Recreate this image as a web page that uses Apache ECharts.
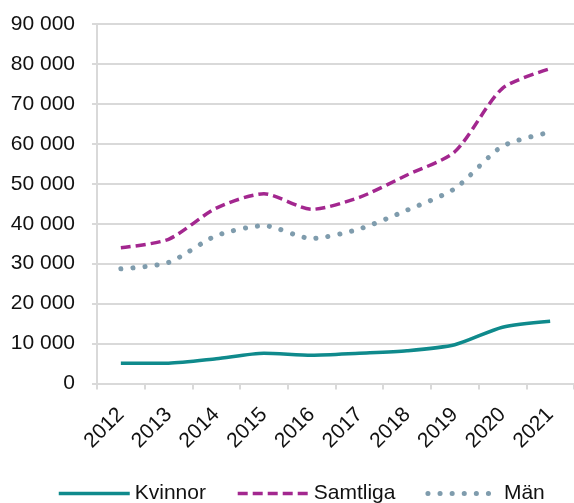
<!DOCTYPE html>
<html>
<head>
<meta charset="utf-8">
<script src="https://cdn.jsdelivr.net/npm/echarts@6/dist/echarts.min.js"></script>
<style>
  html, body { margin: 0; padding: 0; background: #fff; }
  #chart { width: 574px; height: 503px; }
</style>
</head>
<body>
<div id="chart"></div>
<script>
// värden
const years = ['2012', '2013', '2014', '2015', '2016', '2017', '2018', '2019', '2020', '2021'];
const kvinnor = [5100, 5100, 6200, 7600, 7100, 7600, 8200, 9700, 14100, 15600];
const samtliga = [34000, 36100, 43900, 47500, 43600, 46600, 52200, 58000, 73900, 78800];
const man = [28700, 30300, 37000, 39500, 36300, 38700, 43400, 48800, 59400, 62900];

const font = 'Liberation Sans, Arial, sans-serif';
const gridColor = '#d9d9d9';
const textColor = '#111';

const chart = echarts.init(document.getElementById('chart'));

chart.setOption({
    animation: false,
    textStyle: { fontFamily: font },
    grid: { left: 97, top: 24, right: -1, bottom: 119.5, containLabel: false },
    legend: {
        left: 52,
        top: 478,
        itemWidth: 71,
        itemHeight: 20,
        itemGap: 30,
        itemStyle: { opacity: 0 },
        lineStyle: { width: 'inherit' },
        textStyle: { fontSize: 21, color: textColor, fontFamily: font, padding: [0, 0, 6, 0] },
        data: ['Kvinnor', 'Samtliga', 'Män']
    },
    xAxis: {
        type: 'category',
        data: years,
        boundaryGap: true,
        axisLine: { lineStyle: { color: gridColor, width: 2 } },
        axisTick: { show: true, length: 6, lineStyle: { color: gridColor, width: 2 } },
        axisLabel: {
            rotate: 45,
            margin: 28,
            fontSize: 21,
            color: textColor,
            fontFamily: font
        }
    },
    yAxis: {
        type: 'value',
        min: 0,
        max: 90000,
        interval: 10000,
        axisLine: { show: true, lineStyle: { color: gridColor, width: 2 } },
        axisTick: { show: true, length: 5, lineStyle: { color: gridColor, width: 2 } },
        splitLine: { lineStyle: { color: gridColor, width: 2 } },
        axisLabel: {
            margin: 22,
            fontSize: 21,
            color: textColor,
            fontFamily: font,
            formatter: v => String(v).replace(/\B(?=(\d{3})+(?!\d))/g, ' ')
        }
    },
    series: [
        {
            name: 'Kvinnor',
            type: 'line',
            data: kvinnor,
            symbol: 'none',
            smooth: 0.25,
            itemStyle: { color: '#0f8a8c' },
            lineStyle: { color: '#0f8a8c', width: 3.5 }
        },
        {
            name: 'Samtliga',
            type: 'line',
            data: samtliga,
            symbol: 'none',
            smooth: 0.25,
            itemStyle: { color: '#a3278f' },
            lineStyle: { color: '#a3278f', width: 3.5, type: [10, 5] }
        },
        {
            name: 'Män',
            type: 'line',
            data: man,
            symbol: 'none',
            smooth: 0.25,
            itemStyle: { color: '#7f9cad' },
            lineStyle: { color: '#7f9cad', width: 5, type: [0.1, 12], cap: 'round' }
        }
    ]
});
</script>
</body>
</html>
